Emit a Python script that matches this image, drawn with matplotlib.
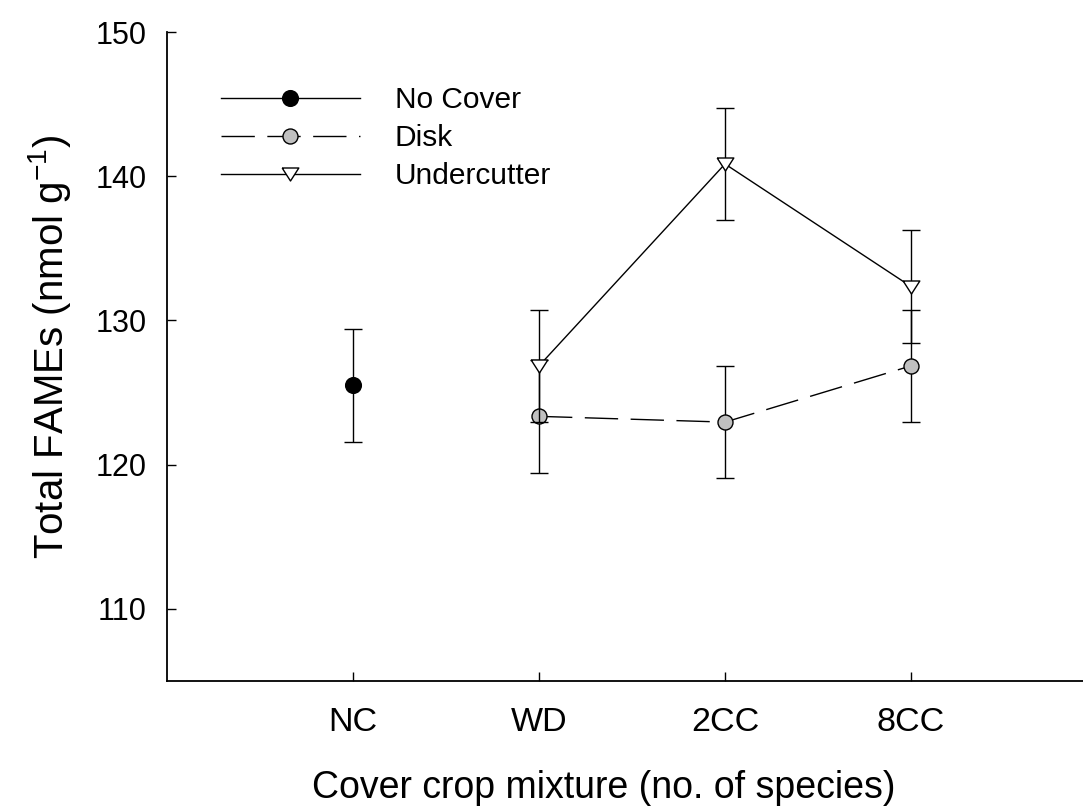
import numpy as np
import matplotlib
matplotlib.use('Agg')
import matplotlib.pyplot as plt

plt.rcParams['font.family'] = ['Liberation Sans', 'DejaVu Sans']
plt.rcParams['mathtext.fontset'] = 'custom'
plt.rcParams['mathtext.rm'] = 'Liberation Sans'
plt.rcParams['mathtext.it'] = 'Liberation Sans'

# 处理与数据
categories = ['NC', 'WD', '2CC', '8CC']
nc_mean = [125.5]
nc_err = [3.9]
disk_mean = [123.35, 122.95, 126.85]
disk_err = [3.9, 3.9, 3.9]
under_mean = [126.85, 140.85, 132.35]
under_err = [3.9, 3.9, 3.9]

x_all = np.arange(1, len(categories) + 1)
x_nc = x_all[:1]
x_cc = x_all[1:]

fig = plt.figure(figsize=(10.83, 8.07), dpi=100)
ax = fig.add_axes([167/1083, 126/807, 930/1083, 649/807])

eb = dict(fmt='none', ecolor='black', elinewidth=1.0, capsize=6.7, capthick=1.0)

# No Cover
ax.errorbar(x_nc, nc_mean, yerr=nc_err, zorder=2, **eb)
ax.plot(x_nc, nc_mean, color='black', linewidth=1.0, marker='o', markersize=11.3,
        markerfacecolor='black', markeredgecolor='black', label='No Cover', zorder=3)

# Disk
ax.errorbar(x_cc, disk_mean, yerr=disk_err, zorder=4, **eb)
ax.plot(x_cc, disk_mean, color='black', linewidth=1.0, dashes=(24, 9), marker='o',
        markersize=10.8, markerfacecolor='#c0c0c0', markeredgecolor='black',
        markeredgewidth=1.0, label='Disk', zorder=5)

# Undercutter
tri = [(-1, 0.78), (1, 0.78), (0, -0.78), (-1, 0.78)]
ax.errorbar(x_cc, under_mean, yerr=under_err, zorder=6, **eb)
ax.plot(x_cc, under_mean, color='black', linewidth=1.0, marker=tri, markersize=12,
        markerfacecolor='white', markeredgecolor='black', markeredgewidth=1.0,
        label='Undercutter', zorder=7)

ax.set_xlim(0, 5)
ax.set_ylim(105, 150)
ax.set_xticks(x_all)
ax.set_xticklabels(categories)
ax.set_yticks(np.arange(110, 151, 10))

for s in ['top', 'right']:
    ax.spines[s].set_visible(False)
for s in ['left', 'bottom']:
    ax.spines[s].set_linewidth(1.3)
ax.tick_params(axis='both', direction='in', length=6.5, width=1.0, color='black')
ax.tick_params(axis='x', labelsize=24.5, pad=18.7)
ax.tick_params(axis='y', labelsize=22, pad=14.4)

ax.set_xlabel('Cover crop mixture (no. of species)', fontsize=27)
ax.xaxis.label.set_va('baseline')
ax.xaxis.set_label_coords((604 - 167) / 930, (681 - 798) / 649)

ax.set_ylabel(r'Total FAMEs (nmol g$^{-1}$)', fontsize=29)
ax.yaxis.label.set_va('baseline')
ax.yaxis.set_label_coords((63 - 167) / 930, 0.515)

ax.legend(loc='upper left', bbox_to_anchor=((221 - 167) / 930, (681 - 86) / 649),
          frameon=False, fontsize=21.5, borderpad=0, borderaxespad=0,
          handlelength=4.65, handletextpad=1.17, labelspacing=0.34)

fig.savefig('out.png', dpi=100)
